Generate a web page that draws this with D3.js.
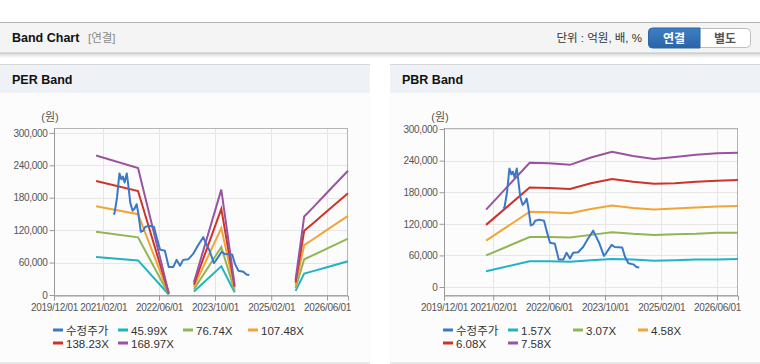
<!DOCTYPE html>
<html>
<head>
<meta charset="utf-8">
<script src="https://cdn.jsdelivr.net/npm/d3@7"></script>
<style>
  body { margin: 0; background: #fff; }
  svg { display: block; font-family: "Liberation Sans", Arial, "Noto Sans CJK KR", sans-serif; }
</style>
</head>
<body>
<svg id="mainsvg" width="760" height="364"></svg>
<script>
// ---- data ----
var xTickLabels = ["2019/12/01", "2021/02/01", "2022/06/01", "2023/10/01", "2025/02/01", "2026/06/01"];
var yTicks = [0, 60000, 120000, 180000, 240000, 300000];

var priceDates = ["2021-05-01", "2021-05-10", "2021-06-01", "2021-06-22", "2021-07-10", "2021-07-22", "2021-08-06",
  "2021-08-25", "2021-09-06", "2021-09-25", "2021-10-15", "2021-11-01", "2021-11-19", "2021-12-04", "2021-12-25",
  "2022-01-15", "2022-02-01", "2022-03-07", "2022-04-19", "2022-05-10", "2022-06-10", "2022-07-22", "2022-08-25",
  "2022-10-04", "2022-11-01", "2022-12-01", "2022-12-28", "2023-02-10", "2023-03-25", "2023-05-07", "2023-06-21",
  "2023-07-10", "2023-08-13", "2023-09-22", "2023-10-10", "2023-11-28", "2023-12-25", "2024-02-28", "2024-03-22",
  "2024-04-22", "2024-06-04", "2024-07-01", "2024-07-25"];
var priceValues = [149000, 151000, 180000, 225000, 214000, 219000, 208000,
  225000, 205000, 170000, 156000, 160000, 168000, 150000, 117000,
  119000, 126000, 128000, 126000, 108000, 84000, 82000, 52000,
  52000, 65000, 54000, 65000, 66000, 76000, 92000, 107000,
  98000, 83000, 59000, 64000, 80000, 76000, 75000, 58000,
  45000, 43000, 38000, 37000];

// PER band (null = no value)
var perDates = ["2020-12-01", "2021-12-01", "2022-08-25", "2023-01-01", "2023-04-01", "2023-11-25", "2024-03-20",
  "2024-12-01", "2025-09-01", "2025-11-15", "2026-02-01", "2026-06-01", "2026-12-01"];
var perNames = ["45.99X", "76.74X", "107.48X", "138.23X", "168.97X"];
var per1 = [70200, 64000, 900, null, 6400, 53100, 5100, null, 7600, 39600, 44200, 51500, 62600];
var per2 = [117200, 106700, 1500, null, 10700, 88600, 8400, null, 12700, 66000, 73700, 85900, 104400];
var per3 = [164100, 149500, 2100, null, 15000, 124000, 11800, null, 17700, 92400, 103200, 120400, 146300];
var per4 = [211000, 192300, 2800, null, 19400, 159500, 15200, null, 22800, 118900, 132700, 154800, 188100];
var per5 = [258000, 235000, 3400, null, 23700, 195000, 18600, null, 27900, 145300, 162200, 189200, 230000];

// PBR band
var pbrDates = ["2020-12-01", "2021-12-15", "2022-06-01", "2022-12-01", "2023-06-01", "2023-12-01", "2024-06-01",
  "2024-12-01", "2025-06-01", "2025-12-01", "2026-06-01", "2026-12-01"];
var pbrNames = ["1.57X", "3.07X", "4.58X", "6.08X", "7.58X"];
var pbr1 = [30000, 49000, 49000, 48000, 51000, 53000, 52000, 50000, 51000, 52000, 52000, 53000];
var pbr2 = [60000, 95000, 95000, 94000, 99000, 104000, 101000, 99000, 100000, 101000, 103000, 103000];
var pbr3 = [88000, 143000, 142000, 140000, 148000, 155000, 150000, 147000, 149000, 151000, 153000, 154000];
var pbr4 = [118000, 189000, 188000, 186000, 197000, 205000, 200000, 196000, 197000, 200000, 202000, 203000];
var pbr5 = [147000, 236000, 235000, 232000, 246000, 257000, 249000, 243000, 247000, 251000, 254000, 255000];

var priceName = "수정주가";
var colors = ["#3a78c8", "#21b3c3", "#8fb653", "#f2a437", "#cf3229", "#9a53a0"];

// ---- drawing ----
var svg = d3.select("#mainsvg");
var parse = d3.timeParse("%Y-%m-%d");
var parseTick = d3.timeParse("%Y/%m/%d");

var defs = svg.append("defs");
var sh = defs.append("linearGradient").attr("id", "shadow").attr("x1", 0).attr("y1", 0).attr("x2", 0).attr("y2", 1);
sh.append("stop").attr("offset", 0).attr("stop-color", "#d6d6d6");
sh.append("stop").attr("offset", 1).attr("stop-color", "#ffffff");
var bl = defs.append("linearGradient").attr("id", "btnblue").attr("x1", 0).attr("y1", 0).attr("x2", 0).attr("y2", 1);
bl.append("stop").attr("offset", 0).attr("stop-color", "#3d80c4");
bl.append("stop").attr("offset", 1).attr("stop-color", "#2a64a6");

// top bar
svg.append("rect").attr("x", 0).attr("y", 53).attr("width", 760).attr("height", 5).attr("fill", "url(#shadow)");
svg.append("rect").attr("x", 0).attr("y", 22).attr("width", 760).attr("height", 31).attr("fill", "#f4f4f4");
svg.append("line").attr("x1", 0).attr("x2", 760).attr("y1", 22.5).attr("y2", 22.5).attr("stroke", "#b4b4b4");
svg.append("line").attr("x1", 0).attr("x2", 760).attr("y1", 53).attr("y2", 53).attr("stroke", "#c4c4c4");
svg.append("text").attr("x", 12).attr("y", 42).attr("font-size", 12.5).attr("font-weight", "bold")
  .attr("fill", "#111").text("Band Chart");
svg.append("text").attr("x", 88).attr("y", 42).attr("font-size", 11.5).attr("fill", "#8a8a8a").text("[연결]");
svg.append("text").attr("x", 642).attr("y", 42).attr("text-anchor", "end").attr("font-size", 11.5)
  .attr("fill", "#333").text("단위 : 억원, 배, %");

// toggle buttons
svg.append("rect").attr("x", 648.5).attr("y", 28.5).attr("width", 102).attr("height", 19).attr("rx", 4)
  .attr("fill", "#fff").attr("stroke", "#bcbcbc");
svg.append("path").attr("d", "M700,28 H652.5 a4,4 0 0 0 -4,4 V44 a4,4 0 0 0 4,4 H700 Z")
  .attr("fill", "url(#btnblue)").attr("stroke", "#2a64a6");
svg.append("text").attr("x", 674).attr("y", 42.5).attr("text-anchor", "middle").attr("font-size", 12)
  .attr("font-weight", "bold").attr("fill", "#fff").text("연결");
svg.append("text").attr("x", 725).attr("y", 42.5).attr("text-anchor", "middle").attr("font-size", 12)
  .attr("font-weight", "bold").attr("fill", "#555").text("별도");

function drawPanel(x0, title) {
  var g = svg.append("g");
  g.append("rect").attr("x", x0).attr("y", 64).attr("width", 370).attr("height", 299).attr("fill", "#fcfcfc");
  g.append("rect").attr("x", x0).attr("y", 65).attr("width", 370).attr("height", 28).attr("fill", "#eef1f6");
  g.append("line").attr("x1", x0).attr("x2", x0 + 370).attr("y1", 64.5).attr("y2", 64.5).attr("stroke", "#d6d6d6");
  g.append("line").attr("x1", x0).attr("x2", x0 + 370).attr("y1", 363).attr("y2", 363).attr("stroke", "#d6d6d6");
  g.append("text").attr("x", x0 + 12).attr("y", 84).attr("font-size", 12.5).attr("font-weight", "bold")
    .attr("fill", "#111").text(title);
}

function drawChart(cfg) {
  var g = svg.append("g");
  var x = d3.scaleTime().domain([parse("2019-12-01"), parse("2026-12-01")]).range([cfg.left, cfg.right]);
  var y = d3.scaleLinear().domain(cfg.yDomain).range([cfg.bottom, cfg.top]);

  // grid
  g.selectAll(".hgrid").data(yTicks).enter().append("line")
    .attr("x1", cfg.left).attr("x2", cfg.right)
    .attr("y1", function (d) { return Math.round(y(d)) + 0.5; })
    .attr("y2", function (d) { return Math.round(y(d)) + 0.5; })
    .attr("stroke", "#e6e6e6");
  g.selectAll(".vgrid").data(xTickLabels).enter().append("line")
    .attr("x1", function (d) { return Math.round(x(parseTick(d))) + 0.5; })
    .attr("x2", function (d) { return Math.round(x(parseTick(d))) + 0.5; })
    .attr("y1", cfg.top).attr("y2", cfg.bottom)
    .attr("stroke", "#e6e6e6");

  // frame
  g.append("rect").attr("x", cfg.left + 0.5).attr("y", cfg.top + 0.5)
    .attr("width", cfg.right - cfg.left - 1).attr("height", cfg.bottom - cfg.top)
    .attr("fill", "none").attr("stroke", "#b4b4b4");

  // axes
  var yAxis = d3.axisLeft(y).tickValues(yTicks).tickSize(5).tickPadding(2).tickFormat(d3.format(","));
  var ya = g.append("g").attr("transform", "translate(" + (cfg.left + 0.5) + ",0)").call(yAxis);
  var xAxis = d3.axisBottom(x).tickValues(xTickLabels.map(parseTick)).tickSize(5).tickPadding(3)
    .tickFormat(d3.timeFormat("%Y/%m/%d"));
  var xa = g.append("g").attr("transform", "translate(0," + (cfg.bottom + 0.5) + ")").call(xAxis);
  [ya, xa].forEach(function (a) {
    a.select(".domain").attr("stroke", "#9a9a9a");
    a.selectAll(".tick line").attr("stroke", "#9a9a9a");
    a.selectAll("text").attr("fill", "#555").attr("font-size", 10).attr("letter-spacing", "-0.3px")
      .attr("font-family", "Liberation Sans, Arial, sans-serif");
  });
  ya.select(".domain").attr("d", "M0," + cfg.top + "V" + cfg.bottom);

  g.append("text").attr("x", cfg.left - 4).attr("y", 121).attr("text-anchor", "middle")
    .attr("font-size", 11).attr("fill", "#555").text("(원)");

  var line = d3.line()
    .defined(function (d) { return d[1] != null; })
    .x(function (d) { return x(d[0]); })
    .y(function (d) { return y(d[1]); });

  cfg.bands.forEach(function (vals, i) {
    var pts = cfg.dates.map(function (dt, j) { return [parse(dt), vals[j]]; });
    g.append("path").attr("d", line(pts)).attr("fill", "none")
      .attr("stroke", colors[i + 1]).attr("stroke-width", 2);
  });
  var ppts = priceDates.map(function (dt, j) { return [parse(dt), priceValues[j]]; });
  g.append("path").attr("d", line(ppts)).attr("fill", "none")
    .attr("stroke", colors[0]).attr("stroke-width", 2).attr("stroke-linejoin", "round");

  // legend
  var names = [priceName].concat(cfg.names);
  var lg = g.selectAll(".leg").data(names).enter().append("g")
    .attr("transform", function (d, i) {
      return "translate(" + (cfg.legendX + (i % 4) * 65) + "," + (330 + Math.floor(i / 4) * 13) + ")";
    });
  lg.append("line").attr("x1", 0).attr("x2", 10).attr("y1", 0).attr("y2", 0)
    .attr("stroke", function (d, i) { return colors[i]; }).attr("stroke-width", 3);
  lg.append("text").attr("x", 13).attr("y", 4.5).attr("font-size", 11.5).attr("fill", "#333").text(function (d) { return d; });
}

drawPanel(0, "PER Band");
drawPanel(390, "PBR Band");

drawChart({
  left: 54, right: 348, top: 128, bottom: 295,
  yDomain: [0, 309000],
  dates: perDates, bands: [per1, per2, per3, per4, per5], names: perNames,
  legendX: 53
});
drawChart({
  left: 444, right: 738, top: 128, bottom: 295,
  yDomain: [-15200, 302000],
  dates: pbrDates, bands: [pbr1, pbr2, pbr3, pbr4, pbr5], names: pbrNames,
  legendX: 443
});
</script>
</body>
</html>
